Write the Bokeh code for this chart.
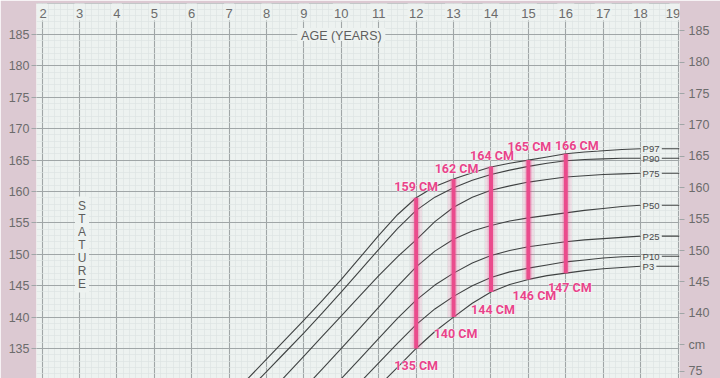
import numpy as np
from bokeh.plotting import figure
from bokeh.models import Range1d, FixedTicker, LinearAxis, Grid
from bokeh.core.properties import value
from bokeh.embed import file_html
from bokeh.resources import INLINE

# ---------------- data ----------------
ages = [7.5, 8.0, 8.5, 9.0, 9.5, 10.0, 10.5, 11.0, 11.5, 12.0, 12.5,
        13.0, 13.5, 14.0, 14.5, 15.0, 15.5, 16.0, 16.5, 17.0, 17.5, 18.0]
p97 = [130.2, 133.3, 136.4, 139.5, 142.7, 146.0, 149.5, 153.0, 156.3, 159.0, 160.8,
       162.0, 163.0, 163.9, 164.5, 165.0, 165.5, 166.0, 166.3, 166.5, 166.7, 166.8]
p90 = [128.3, 131.3, 134.4, 137.5, 140.7, 144.0, 147.4, 150.8, 154.1, 157.0, 159.1,
       160.6, 161.8, 162.7, 163.4, 164.0, 164.5, 164.9, 165.1, 165.2, 165.3, 165.3]
p75 = [124.2, 127.4, 130.6, 133.8, 137.0, 140.2, 143.4, 146.6, 149.6, 152.3, 155.2,
       157.5, 159.1, 160.2, 160.9, 161.5, 161.9, 162.3, 162.5, 162.7, 162.8, 162.9]
p50 = [119.0, 122.2, 125.4, 128.6, 131.8, 135.0, 138.3, 141.6, 144.9, 148.0, 150.5,
       152.4, 153.7, 154.6, 155.3, 155.8, 156.2, 156.6, 157.0, 157.3, 157.6, 157.8]
p25 = [114.2, 117.4, 120.6, 123.8, 127.0, 130.2, 133.4, 136.6, 139.8, 142.7, 145.1,
       147.0, 148.6, 149.8, 150.6, 151.2, 151.6, 152.0, 152.3, 152.5, 152.7, 152.9]
p10 = [111.0, 114.1, 117.2, 120.3, 123.4, 126.5, 129.6, 132.7, 135.8, 138.8, 141.3,
       143.3, 145.0, 146.3, 147.2, 147.8, 148.3, 148.8, 149.1, 149.4, 149.6, 149.7]
p3 = [108.0, 111.0, 114.0, 117.0, 120.0, 123.0, 126.0, 129.0, 132.0, 135.0, 137.7,
      140.0, 142.2, 144.0, 145.2, 146.0, 146.6, 147.0, 147.4, 147.7, 147.9, 148.1]
series_names = ["P97", "P90", "P75", "P50", "P25", "P10", "P3"]

bar_ages = [12, 13, 14, 15, 16]
bar_high = [159, 162, 164, 165, 166]
bar_low = [135, 140, 144, 146, 147]

year_ticks = list(range(2, 20))
left_ticks = list(range(135, 190, 5))
right_ticks = list(range(140, 190, 5))
right_extra = {135: "cm", 130.8: "75"}   # unit label and start of the weight scale
stature_letters = list("STATURE")

# ---------------- styling / layout ----------------
PAPER = "#edf2f0"
PINK_BG = "#dcc9d2"
MAJOR = "#a0a6a7"
MINOR = "#dce4e2"
TXT = "#6c6c6c"
PINK = "#ea4b8c"
X0, X1 = 1.85, 19.04
Y0, Y1 = 130.22, 189.94
PXX = 643 / (X1 - X0)     # px per year
PXY = 375 / (Y1 - Y0)     # px per cm

p = figure(width=720, height=378, x_range=Range1d(X0, X1), y_range=Range1d(Y0, Y1),
           output_backend="svg", toolbar_location=None,
           x_axis_location=None, y_axis_location=None,
           min_border_left=36, min_border_right=41, min_border_top=3, min_border_bottom=0)
p.background_fill_color = PAPER
p.border_fill_color = PINK_BG
p.outline_line_color = None
p.xgrid.visible = False
p.ygrid.visible = False

minor_x = [a for a in np.arange(2, 19.01, 1 / 6.0)]
minor_y = list(range(130, 191))
p.add_layout(Grid(dimension=0, ticker=FixedTicker(ticks=year_ticks, minor_ticks=minor_x),
                  grid_line_color=MAJOR, grid_line_width=1.1,
                  minor_grid_line_color=MINOR, minor_grid_line_width=0.7))
p.add_layout(Grid(dimension=1, ticker=FixedTicker(ticks=list(range(130, 191, 5)), minor_ticks=minor_y),
                  grid_line_color=MAJOR, grid_line_width=1.1,
                  minor_grid_line_color=MINOR, minor_grid_line_width=0.7))

# left axis
la = LinearAxis(ticker=FixedTicker(ticks=left_ticks))
la.axis_line_color = None
la.major_tick_in = 0
la.major_tick_out = 5
la.major_tick_line_color = MAJOR
la.minor_tick_line_color = None
la.major_label_standoff = 2
la.major_label_text_font = "Liberation Sans"
la.major_label_text_font_size = "12.5px"
la.major_label_text_color = TXT
p.add_layout(la, "left")

# right axis (slightly shifted range, as in the photographed chart)
p.extra_y_ranges = {"r": Range1d(Y0 - 0.6, Y1 - 0.6)}
ra = LinearAxis(y_range_name="r",
                ticker=FixedTicker(ticks=sorted(list(right_extra.keys()) + right_ticks)))
ra.major_label_overrides = dict(right_extra)
ra.axis_line_color = None
ra.major_tick_in = 0
ra.major_tick_out = 5
ra.major_tick_line_color = MAJOR
ra.minor_tick_line_color = None
ra.major_label_standoff = 4
ra.major_label_text_font = "Liberation Sans"
ra.major_label_text_font_size = "12.5px"
ra.major_label_text_color = TXT
p.add_layout(ra, "right")

# top age numbers (printed inside the grid)
top_dx = [1 if t == 2 else (-5 if t == 19 else 0) for t in year_ticks]
p.rect(x=year_ticks, y=[Y1] * len(year_ticks),
       width=[10 if t < 10 else 17 for t in year_ticks], height=[34] * len(year_ticks),
       width_units="screen", height_units="screen", fill_color=PAPER, line_color=None)
p.text(x=year_ticks, y=[Y1] * len(year_ticks), text=[str(t) for t in year_ticks],
       x_offset=top_dx, y_offset=5, text_align="center", text_baseline="top",
       text_font=value("Liberation Sans"), text_font_size="13px", text_color=TXT)

# AGE (YEARS)
p.rect(x=[10.0], y=[185], width=[88], height=[13], width_units="screen", height_units="screen",
       fill_color=PAPER, line_color=None)
p.text(x=[10.0], y=[185], text=["AGE (YEARS)"], y_offset=1, text_align="center",
       text_baseline="middle", text_font=value("Liberation Sans"), text_font_size="12.5px",
       text_color="#5e5e5e")

# STATURE (stacked letters)
sx = 3 + 2.5 / PXX
s_top = Y1 - (205 - 3) / PXY
p.rect(x=[sx], y=[s_top - 39 / PXY], width=[14], height=[96], width_units="screen",
       height_units="screen", fill_color=PAPER, line_color=None)
p.text(x=[sx] * 7, y=[s_top] * 7, text=stature_letters, y_offset=[13 * i for i in range(7)],
       text_align="center", text_baseline="middle",
       text_font=value("Liberation Sans"), text_font_size="12px", text_color="#5e5e5e")

# percentile curves
all_series = [p97, p90, p75, p50, p25, p10, p3]
for s in all_series:
    p.line(ages, s, line_color="#3f4242", line_width=1.1)

ends = [s[-1] for s in all_series]
p.text(x=[ages[-1]] * 7, y=ends, text=series_names, x_offset=2,
       text_align="left", text_baseline="middle",
       text_font=value("Liberation Sans"), text_font_size="9.5px", text_color="#4a4a4a")
seg_start = [ages[-1] + (2 + 5.4 * len(n) + 3) / PXX for n in series_names]
p.segment(x0=seg_start, y0=ends, x1=[X1] * 7, y1=ends, line_color="#3f4242", line_width=1.1)

# pink range bars
p.segment(x0=bar_ages, y0=bar_low, x1=bar_ages, y1=bar_high, line_color=PINK,
          line_width=12, line_alpha=0.13)
p.segment(x0=bar_ages, y0=bar_low, x1=bar_ages, y1=bar_high, line_color=PINK,
          line_width=7, line_alpha=0.22)
p.segment(x0=bar_ages, y0=bar_low, x1=bar_ages, y1=bar_high, line_color=PINK,
          line_width=4)

lbl_top_dx = [0, 3, 1, 1, 11]
lbl_top_dy = [-11, -10, -11, -14, -8]
lbl_bot_dx = [0, 2, 2, 6, 4]
lbl_bot_dy = [17, 16, 18, 16, 14]
base = dict(text_align="center", text_baseline="middle", text_font=value("Roboto"),
            text_font_style="bold", text_font_size="12.5px")
for xs, ys, dx, dy in [(bar_ages, bar_high, lbl_top_dx, lbl_top_dy),
                       (bar_ages, bar_low, lbl_bot_dx, lbl_bot_dy)]:
    texts = [f"{v} CM" for v in ys]
    # soft white halo, then pink text
    p.text(x=xs, y=ys, text=texts, x_offset=dx, y_offset=dy, text_color="white",
           text_alpha=0.7, text_outline_color="white", **base)
    p.text(x=xs, y=ys, text=texts, x_offset=dx, y_offset=dy, text_color="#e8448a", **base)

open("out.html", "w").write(file_html(p, INLINE))
